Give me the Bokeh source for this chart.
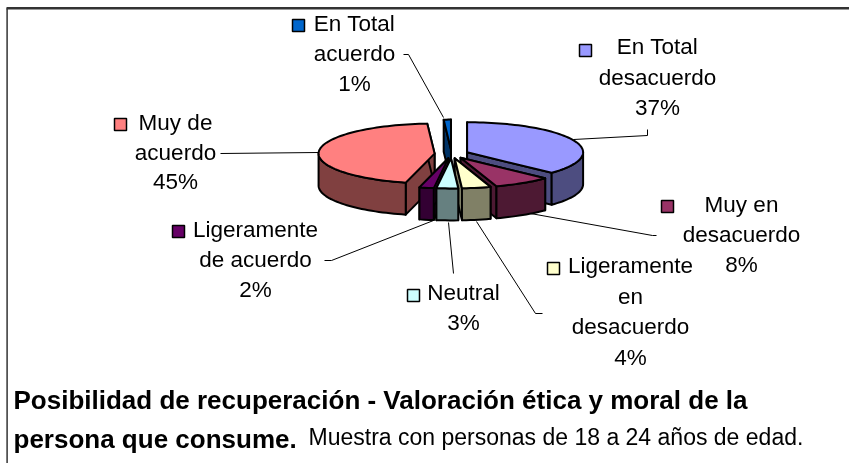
import math
from bokeh.plotting import figure
from bokeh.models import Range1d
from bokeh.core.properties import value
from bokeh.embed import file_html
from bokeh.resources import INLINE

# ---- chart data ----
categories = ["En Total desacuerdo", "Muy en desacuerdo", "Ligeramente en desacuerdo",
              "Neutral", "Ligeramente de acuerdo", "Muy de acuerdo", "En Total acuerdo"]
shares = [37, 8, 4, 3, 2, 45, 1]
label_lines = [["En Total", "desacuerdo"], ["Muy en", "desacuerdo"],
               ["Ligeramente", "en", "desacuerdo"], ["Neutral"],
               ["Ligeramente", "de acuerdo"], ["Muy de", "acuerdo"], ["En Total", "acuerdo"]]
title_bold_1 = "Posibilidad de recuperación - Valoración ética y moral de la"
title_bold_2 = "persona que consume."
title_plain = "Muestra con personas de 18 a 24 años de edad."

# ---- styles ----
top_colors = ["#9999FF", "#993366", "#FFFFCC", "#CCFFFF", "#660066", "#FF8080", "#0066CC"]
wall_colors = ["#4D4D80", "#4D1933", "#808066", "#668080", "#330033", "#804040", "#003366"]
FONT = value("Liberation Sans")

# ---- layout (page pixels) ----
CX, CY, RX, RY, EXPLODE, DEPTH = 451, 153.5, 116, 30, 17, 32
SW = 12
# per category: text centre x, first line y, line step, swatch centre
label_pos = [
    (657, 46, 30.5, 585, 50),
    (741, 204, 30, 667, 206),
    (630, 265, 30.7, 553, 268),
    (463, 292, 30, 413, 295),
    (255, 229, 30, 178, 231),
    (175, 122, 29.5, 120, 124),
    (354, 23, 30, 298, 25),
]
leaders = [
    ([573, 647, 647], [139, 135, 129]),
    ([530, 652, 656], [213, 235, 235]),
    ([476, 535, 542], [221, 313, 313]),
    ([448, 453], [222, 273]),
    ([433, 331, 324], [220, 260, 260]),
    ([318, 220], [152, 153]),
    ([443, 408, 403], [117, 54, 54]),
]

p = figure(width=849, height=463, x_range=Range1d(0, 849), y_range=Range1d(463, 0),
           output_backend="svg", toolbar_location=None, min_border=0,
           background_fill_color="white", border_fill_color="white", outline_line_color=None)
p.styles = {"position": "fixed", "left": "0px", "top": "0px"}
p.axis.visible = False
p.grid.visible = False

# frame
p.line([6.6, 6.6], [463, 7.8], line_color="#333333", line_width=1.5)
p.line([6, 849], [7.8, 7.8], line_color="#333333", line_width=2.5)


def rim(cx, cy, deg):
    r = math.radians(deg)
    return cx + RX * math.sin(r), cy - RY * math.cos(r)


# slice geometry derived from the shares
total = sum(shares)
cum = 0
slices = []
for i, s in enumerate(shares):
    a1 = cum / total * 360
    a2 = (cum + s) / total * 360
    cum += s
    mid = math.radians((a1 + a2) / 2)
    cx = CX + EXPLODE * math.sin(mid)
    cy = CY - EXPLODE * RY / RX * math.cos(mid)
    slices.append((-math.cos(mid), i, a1, a2, cx, cy))

OUT = dict(line_color="black", line_width=2, line_join="round")
for _, i, a1, a2, cx, cy in sorted(slices):
    n = max(3, int((a2 - a1) / 2))
    arc = [a1 + (a2 - a1) * k / n for k in range(n + 1)]
    # radial walls
    for a in (a1, a2):
        x, y = rim(cx, cy, a)
        p.patch([cx, x, x, cx], [cy, y, y + DEPTH, cy + DEPTH], fill_color=wall_colors[i], **OUT)
    # outer wall (front half only)
    lo, hi = max(a1, 90), min(a2, 270)
    if hi > lo:
        m = max(3, int((hi - lo) / 2))
        pts = [rim(cx, cy, lo + (hi - lo) * k / m) for k in range(m + 1)]
        xs = [q[0] for q in pts]
        ys = [q[1] for q in pts]
        p.patch(xs + xs[::-1], ys + [v + DEPTH for v in ys[::-1]], fill_color=wall_colors[i], **OUT)
    # top face
    pts = [rim(cx, cy, a) for a in arc]
    p.patch([cx] + [q[0] for q in pts], [cy] + [q[1] for q in pts], fill_color=top_colors[i], **OUT)

# leaders
for xs, ys in leaders:
    p.line(xs, ys, line_color="black", line_width=1)

# labels
for i, (tx, ty, step, sx, sy) in enumerate(label_pos):
    rows = label_lines[i] + [f"{shares[i]}%"]
    p.text([tx] * len(rows), [ty + k * step for k in range(len(rows))], text=rows,
           text_font=FONT, text_font_size="22.5px", text_color="black",
           text_align="center", text_baseline="middle")
    p.scatter([sx], [sy], marker="square", size=SW, fill_color=top_colors[i],
              line_color="black", line_width=1.5)

# caption
p.text([13], [399], text=[title_bold_1], text_font=FONT, text_font_size="26px",
       text_font_style="bold", text_color="black", text_baseline="middle")
p.text([13], [438], text=[title_bold_2], text_font=FONT, text_font_size="26px",
       text_font_style="bold", text_color="black", text_baseline="middle")
p.text([308], [436], text=[title_plain], text_font=FONT, text_font_size="23px",
       text_color="black", text_baseline="middle")

open("out.html", "w").write(file_html(p, INLINE))
